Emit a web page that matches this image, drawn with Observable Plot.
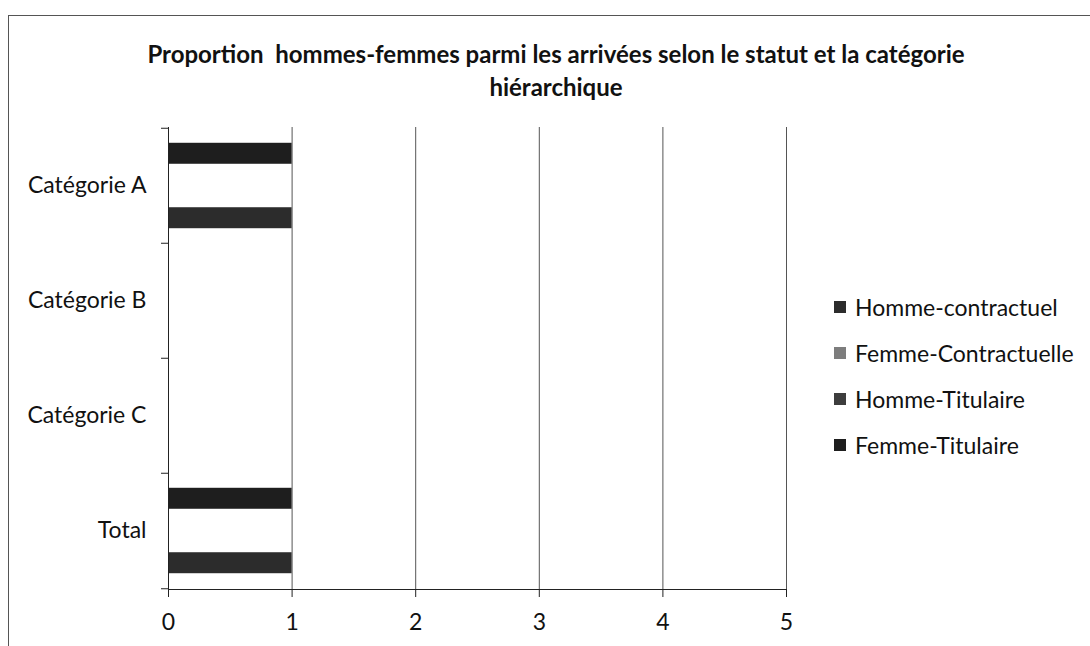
<!DOCTYPE html>
<html>
<head>
<meta charset="utf-8">
<script src="https://cdn.jsdelivr.net/npm/d3@7"></script>
<script src="https://cdn.jsdelivr.net/npm/@observablehq/plot@0.6"></script>
<style>
  html, body { margin: 0; padding: 0; background: #fff; }
  #wrap { position: relative; width: 1090px; height: 646px; overflow: hidden; font-family: Lato, "Open Sans", sans-serif; color: #111; }
  #frame { position: absolute; left: 8px; top: 15px; width: 1200px; height: 700px; border-left: 1.5px solid #555; border-top: 1.5px solid #555; }
  #title { position: absolute; left: 0; width: 1112px; top: 37px; text-align: center; font-weight: bold; font-size: 24px; line-height: 33px; }
  #chart { position: absolute; left: 0; top: 0; }
  #legend { position: absolute; left: 834px; top: 284px; font-size: 23px; }
  .li { display: flex; align-items: center; height: 46px; }
  .sw { width: 12px; height: 12px; margin-right: 9px; }
</style>
</head>
<body>
<div id="wrap">
  <div id="frame"></div>
  <div id="chart"></div>
  <div id="title">Proportion&nbsp; hommes-femmes parmi les arrivées selon le statut et la catégorie<br>hiérarchique</div>
  <div id="legend"></div>
</div>
<script>
const categories = ["Catégorie A", "Catégorie B", "Catégorie C", "Total"];
const series = ["Homme-contractuel", "Femme-Contractuelle", "Homme-Titulaire", "Femme-Titulaire"];
const hommeContractuel = [1, 0, 0, 1];
const femmeContractuelle = [0, 0, 0, 0];
const hommeTitulaire = [0, 0, 0, 0];
const femmeTitulaire = [1, 0, 0, 1];
const xTicks = [0, 1, 2, 3, 4, 5];
const seriesColors = ["#2c2c2c", "#7d7d7d", "#3d3d3d", "#1e1e1e"];

const values = [hommeContractuel, femmeContractuelle, hommeTitulaire, femmeTitulaire];
const data = [];
series.forEach((s, si) => categories.forEach((c, ci) => data.push({category: c, series: s, value: values[si][ci]})));

const W = 820, H = 646, mTop = 127, mBottom = 57, mLeft = 168, mRight = 34;
const bandH = (H - mTop - mBottom) / categories.length;
const barH = bandH * 0.186;
const pad = (bandH - 4 * barH) / 2;
// Excel horizontal bars: first series at the bottom of the group
const barMarks = series.map((s, si) => {
  const slot = series.length - 1 - si;
  return Plot.barX(data.filter(d => d.series === s), {
    x: "value", y: "category", fill: seriesColors[si],
    insetTop: pad + slot * barH, insetBottom: bandH - pad - (slot + 1) * barH
  });
});

const plot = Plot.plot({
  width: W, height: H,
  marginTop: mTop, marginBottom: mBottom, marginLeft: mLeft, marginRight: mRight,
  style: {fontFamily: "Lato, 'Open Sans', sans-serif", fontSize: "23px", color: "#111", background: "transparent"},
  x: {domain: [0, 5], ticks: xTicks},
  y: {domain: categories, padding: 0},
  marks: [
    Plot.gridX(xTicks.slice(1), {stroke: "#555", strokeOpacity: 1, strokeWidth: 1}),
    ...barMarks,
    Plot.frame({anchor: "left", stroke: "#222"}),
    Plot.frame({anchor: "bottom", stroke: "#222"}),
    Plot.ruleY(categories, {y: d => d, dy: -bandH / 2, x1: 0, x2: 0, insetLeft: -7, stroke: "#222"}),
    Plot.ruleY(categories.slice(-1), {y: d => d, dy: bandH / 2, x1: 0, x2: 0, insetLeft: -7, stroke: "#222"}),
    Plot.axisX(xTicks, {tickSize: 8, tickPadding: 16, tickFormat: "d", label: null, fontSize: 23, stroke: "#222"}),
    Plot.axisY({tickSize: 0, tickPadding: 22, label: null, fontSize: 23})
  ]
});
document.getElementById("chart").appendChild(plot);

const legend = document.getElementById("legend");
series.forEach((s, i) => {
  const row = document.createElement("div");
  row.className = "li";
  row.innerHTML = `<div class="sw" style="background:${seriesColors[i]}"></div><span>${s}</span>`;
  legend.appendChild(row);
});
</script>
</body>
</html>
